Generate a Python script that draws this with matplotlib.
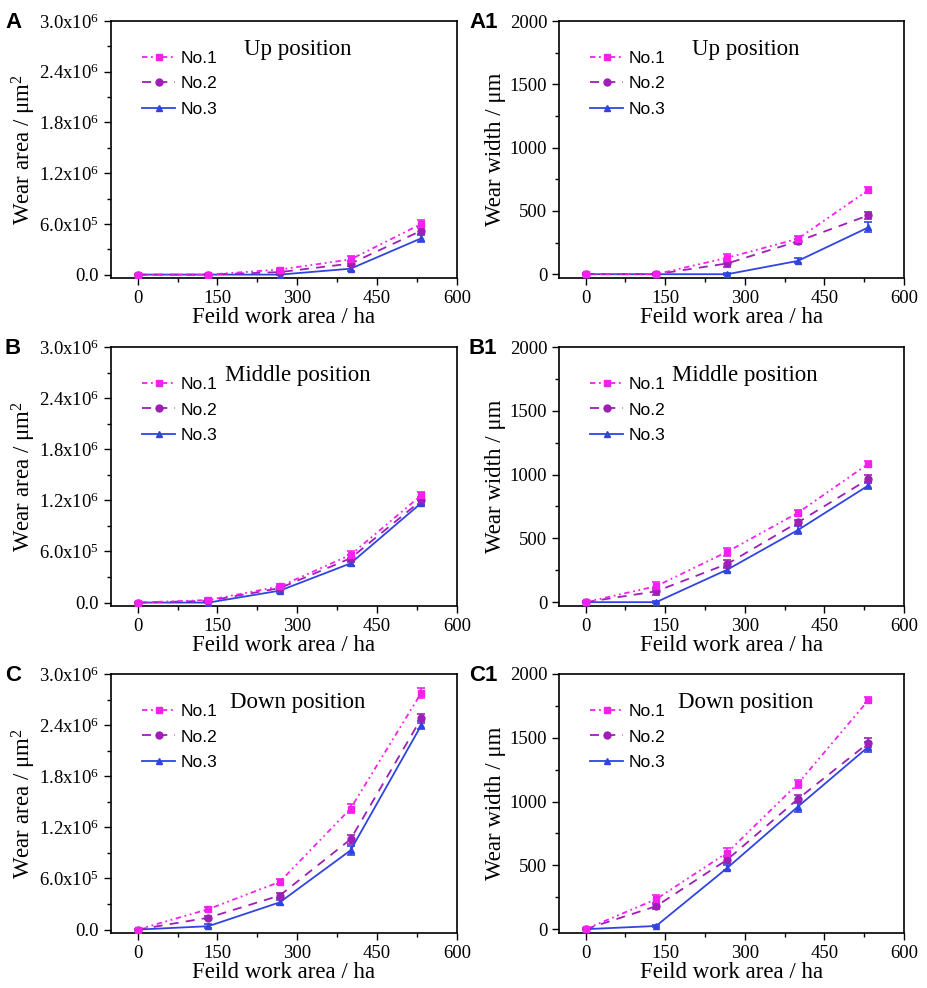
import matplotlib
matplotlib.use("Agg")
import matplotlib.pyplot as plt
from matplotlib.ticker import FixedLocator, FixedFormatter, MultipleLocator

plt.rcParams['font.family'] = ['Liberation Serif', 'DejaVu Serif']
plt.rcParams['mathtext.fontset'] = 'custom'
plt.rcParams['mathtext.rm'] = 'Liberation Serif'
plt.rcParams['mathtext.it'] = 'Liberation Serif:italic'

# ---- data ----
x_ha = [0, 133, 267, 400, 533]
series_names = ["No.1", "No.2", "No.3"]

# Wear area (um^2)
area_up = [[0, 0, 0.06e6, 0.18e6, 0.60e6],
           [0, 0, 0.03e6, 0.13e6, 0.52e6],
           [0, 0, 0.0, 0.07e6, 0.43e6]]
area_up_err = [[0.01e6, 0.01e6, 0.02e6, 0.04e6, 0.05e6],
               [0.01e6, 0.01e6, 0.02e6, 0.03e6, 0.04e6],
               [0.01e6, 0.01e6, 0.01e6, 0.03e6, 0.04e6]]
area_mid = [[0, 0.03e6, 0.19e6, 0.56e6, 1.26e6],
            [0, 0.02e6, 0.17e6, 0.52e6, 1.20e6],
            [0, 0.0, 0.14e6, 0.46e6, 1.17e6]]
area_mid_err = [[0.01e6, 0.02e6, 0.03e6, 0.04e6, 0.04e6],
                [0.01e6, 0.02e6, 0.03e6, 0.04e6, 0.04e6],
                [0.01e6, 0.01e6, 0.03e6, 0.03e6, 0.03e6]]
area_down = [[0, 0.24e6, 0.56e6, 1.42e6, 2.78e6],
             [0, 0.14e6, 0.40e6, 1.06e6, 2.48e6],
             [0, 0.04e6, 0.32e6, 0.93e6, 2.40e6]]
area_down_err = [[0.01e6, 0.02e6, 0.03e6, 0.05e6, 0.06e6],
                 [0.01e6, 0.02e6, 0.03e6, 0.05e6, 0.05e6],
                 [0.01e6, 0.02e6, 0.03e6, 0.05e6, 0.05e6]]

# Wear width (um)
width_up = [[0, 0, 130, 280, 665],
            [0, 0, 85, 260, 465],
            [0, 0, 0, 105, 370]]
width_up_err = [[8, 8, 30, 25, 25],
                [8, 8, 30, 20, 30],
                [8, 8, 8, 20, 40]]
width_mid = [[0, 125, 395, 700, 1085],
             [0, 85, 300, 625, 965],
             [0, 0, 255, 565, 915]]
width_mid_err = [[8, 30, 30, 25, 25],
                 [8, 25, 30, 20, 30],
                 [8, 8, 20, 30, 25]]
width_down = [[0, 235, 600, 1140, 1795],
              [0, 180, 545, 1020, 1460],
              [0, 25, 480, 960, 1430]]
width_down_err = [[8, 35, 35, 30, 25],
                  [8, 25, 30, 30, 35],
                  [8, 10, 20, 40, 40]]

area_ticks = [0, 0.6e6, 1.2e6, 1.8e6, 2.4e6, 3.0e6]
area_tick_labels = ["0.0", "6.0x10$^5$", "1.2x10$^6$", "1.8x10$^6$", "2.4x10$^6$", "3.0x10$^6$"]
width_ticks = [0, 500, 1000, 1500, 2000]
width_tick_labels = ["0", "500", "1000", "1500", "2000"]
x_ticks = [0, 150, 300, 450, 600]
x_tick_labels = ["0", "150", "300", "450", "600"]

positions = ["Up position", "Middle position", "Down position"]
panel_labels = [["A", "A1"], ["B", "B1"], ["C", "C1"]]

# ---- styles ----
colors = ["#f51ff0", "#9e1fb5", "#3045e0"]
markers = ["s", "o", "^"]
linestyles = [(0, (3, 2, 1, 2, 1, 2)), (0, (5, 4)), "-"]

fig = plt.figure(figsize=(9.27, 9.88), dpi=100)

W, H = 927.0, 988.0
rows_px = [(21, 278), (347, 606), (674, 933)]
cols_px = [(111, 457), (559, 904)]

area_data = [(area_up, area_up_err), (area_mid, area_mid_err), (area_down, area_down_err)]
width_data = [(width_up, width_up_err), (width_mid, width_mid_err), (width_down, width_down_err)]

for r in range(3):
    top, bot = rows_px[r]
    for c in range(2):
        l, rr = cols_px[c]
        ax = fig.add_axes([l / W, 1 - bot / H, (rr - l) / W, (bot - top) / H])
        if c == 0:
            vals, errs = area_data[r]
            ax.set_ylim(-0.04e6, 3.0e6)
            ax.yaxis.set_major_locator(FixedLocator(area_ticks))
            ax.yaxis.set_major_formatter(FixedFormatter(area_tick_labels))
            ax.yaxis.set_minor_locator(MultipleLocator(0.3e6))
            ax.set_ylabel("Wear area / \u03bcm$^2$", fontsize=16.5, labelpad=1)
        else:
            vals, errs = width_data[r]
            ax.set_ylim(-30, 2000)
            ax.yaxis.set_major_locator(FixedLocator(width_ticks))
            ax.yaxis.set_major_formatter(FixedFormatter(width_tick_labels))
            ax.yaxis.set_minor_locator(MultipleLocator(250))
            ax.set_ylabel("Wear width / \u03bcm", fontsize=16.5, labelpad=3)
        handles = []
        for i in range(3):
            cont = ax.errorbar(x_ha, vals[i], yerr=errs[i], color=colors[i], marker=markers[i],
                               markersize=5, linestyle=linestyles[i], linewidth=1.3,
                               elinewidth=1.2, capsize=3, capthick=1.2, label=series_names[i],
                               zorder=3 - i * 0.1)
            handles.append(cont[0])
        ax.set_xlim(-50, 600)
        ax.xaxis.set_major_locator(FixedLocator(x_ticks))
        ax.xaxis.set_major_formatter(FixedFormatter(x_tick_labels))
        ax.xaxis.set_minor_locator(MultipleLocator(75))
        ax.tick_params(which="both", direction="out", top=False, right=False, labelsize=13.5)
        ax.tick_params(which="major", length=5, width=1)
        ax.tick_params(which="minor", length=3, width=1)
        for s in ax.spines.values():
            s.set_linewidth(1.2)
        ax.set_xlabel("Feild work area / ha", fontsize=16.5, labelpad=0)
        ax.text(0.54, 0.89, positions[r], transform=ax.transAxes, ha="center", va="center",
                fontsize=16.5)
        ax.legend(handles, series_names, loc="upper left", bbox_to_anchor=(0.06, 0.925),
                  frameon=False, prop={"family": "Liberation Sans", "size": 12.5},
                  handlelength=1.9, handletextpad=0.3, labelspacing=0.6,
                  borderaxespad=0.2)
        fig.text((l - (106 if c == 0 else 90)) / W, 1 - (top - 9) / H, panel_labels[r][c],
                 ha="left", va="top", fontsize=16, fontweight="bold", family="Liberation Sans")

fig.savefig("out.png", dpi=100)
